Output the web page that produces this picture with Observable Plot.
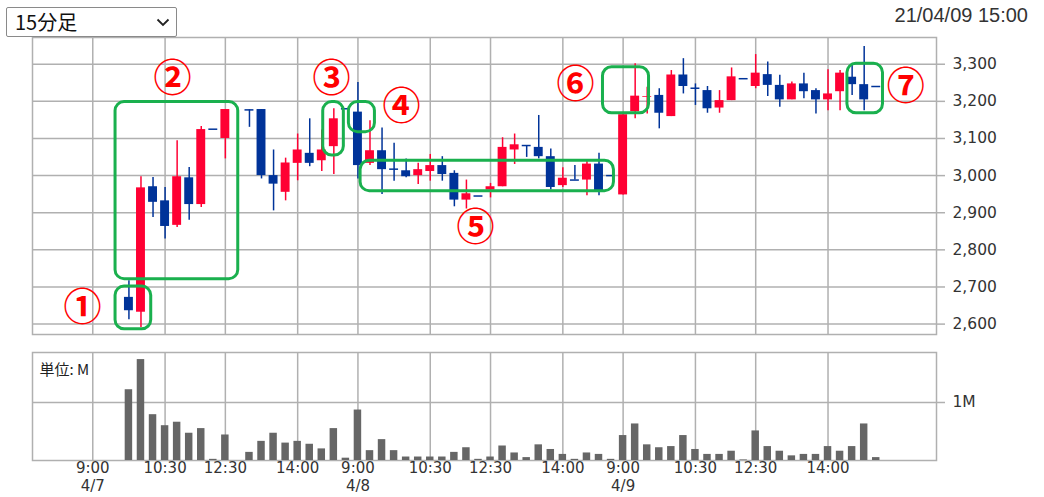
<!DOCTYPE html>
<html>
<head>
<meta charset="utf-8">
<script src="https://cdn.jsdelivr.net/npm/d3@7"></script>
<script src="https://cdn.jsdelivr.net/npm/@observablehq/plot@0.6"></script>
<style>
  body { margin: 0; background: #fff; }
  #wrap { position: relative; width: 1044px; height: 497px; overflow: hidden; background: #fff; }
  #sel { position: absolute; left: 6px; top: 7px; width: 171px; height: 30px; box-sizing: border-box;
         border: 1px solid #8a8a8a; border-radius: 2px; background: #fff; }
  #sel span { position: absolute; left: 8px; top: 1px; font: 20px "Noto Sans CJK JP", sans-serif; color: #111; line-height: 26px; }
  #sel svg { position: absolute; left: 149px; top: 10px; }
  #date { position: absolute; right: 16px; top: 4px; font: 20px "Liberation Sans", Arial, sans-serif; color: #333; }
  #top { position: absolute; left: 0; top: 0; }
  #bot { position: absolute; left: 0; top: 340px; }
</style>
</head>
<body>
<div id="wrap">
  <div id="top"></div>
  <div id="bot"></div>
  <div id="sel"><span>15分足</span><svg width="14" height="9"><polyline points="1.5,1.5 7,7 12.5,1.5" fill="none" stroke="#222" stroke-width="1.8"/></svg></div>
  <div id="date">21/04/09 15:00</div>
</div>
<script>
// ---- session structure ----
const days = ["4/7", "4/8", "4/9"];
const sessionSlots = ["9:00","9:15","9:30","9:45","10:00","10:15","10:30","10:45","11:00","11:15","11:30",
                      "12:30","12:45","13:00","13:15","13:30","13:45","14:00","14:15","14:30","14:45","15:00"];

// ---- 15-minute bars ----
const barTimes = [
  "4/7 9:45","4/7 10:00","4/7 10:15","4/7 10:30","4/7 10:45","4/7 11:00","4/7 11:15","4/7 11:30",
  "4/7 12:30","4/7 13:00","4/7 13:15","4/7 13:30","4/7 13:45","4/7 14:00","4/7 14:15","4/7 14:30","4/7 14:45","4/7 15:00",
  "4/8 9:00","4/8 9:15","4/8 9:30","4/8 9:45","4/8 10:00","4/8 10:15","4/8 10:30","4/8 10:45","4/8 11:00","4/8 11:15","4/8 11:30",
  "4/8 12:30","4/8 12:45","4/8 13:00","4/8 13:15","4/8 13:30","4/8 13:45","4/8 14:00","4/8 14:15","4/8 14:30","4/8 14:45","4/8 15:00",
  "4/9 9:00","4/9 9:15","4/9 9:30","4/9 9:45","4/9 10:00","4/9 10:15","4/9 10:30","4/9 10:45","4/9 11:00","4/9 11:15","4/9 11:30",
  "4/9 12:30","4/9 12:45","4/9 13:00","4/9 13:15","4/9 13:30","4/9 13:45","4/9 14:00","4/9 14:15","4/9 14:30","4/9 14:45","4/9 15:00"
];
const openP = [
  2672,2632,2970,2932,2866,2994,2922,3125, 3100,3177,3178,3000,2955,3033,3060,3040,3078,3180,
  3171,3033,3067,3018,3013,3000,3011,3027,3006,2934,2945, 2961,2970,3069,3081,3076,3051,2973,2988,2988,3031,3000,
  2948,3172,3211,3216,3159,3271,3236,3229,3182,3202,3261, 3240,3272,3243,3204,3247,3229,3204,3226,3265,3245,3240
];
const highP = [
  2717,2997,2995,2968,3094,3022,3132,3125, 3178,3177,3178,3069,3047,3112,3153,3123,3180,3180,
  3251,3148,3128,3087,3045,3033,3057,3051,3013,2988,2945, 2979,3102,3112,3081,3162,3072,3021,3027,3038,3060,3000,
  3164,3301,3238,3234,3283,3315,3247,3240,3229,3290,3261, 3326,3306,3270,3252,3276,3234,3285,3283,3297,3348,3240
];
const lowP = [
  2612,2591,2887,2829,2860,2880,2914,3125, 3045,3130,2991,2905,2932,2986,3024,3011,3003,3180,
  2991,3027,2949,2985,2994,2976,2985,2985,2916,2910,2945, 2940,2970,3030,3049,3045,2961,2968,2988,2946,2946,3000,
  2948,3153,3166,3126,3159,3220,3189,3168,3168,3202,3261, 3234,3213,3184,3204,3207,3166,3175,3175,3216,3175,3240
];
const closeP = [
  2636,2967,2928,2863,2997,2922,3124,3125, 3178,3177,3000,2977,3034,3069,3033,3069,3153,3180,
  3027,3067,3016,3014,2997,3016,3027,3003,2934,2951,2945, 2970,3076,3083,3081,3051,2968,2993,2988,3031,2959,3000,
  3164,3214,3213,3168,3271,3240,3232,3180,3202,3266,3261, 3276,3243,3204,3247,3226,3204,3220,3276,3245,3204,3240
];
// volume, millions of shares
const volumeM = [
  1.22,1.74,0.79,0.60,0.66,0.47,0.55,0.02, 0.44,0.14,0.33,0.47,0.30,0.33,0.28,0.20,0.55,0.04,
  0.87,0.17,0.36,0.17,0.06,0.06,0.06,0.06,0.14,0.22,0.02, 0.06,0.25,0.13,0.05,0.27,0.19,0.105,0.02,0.13,0.105,0.02,
  0.43,0.63,0.27,0.22,0.24,0.43,0.19,0.105,0.105,0.16,0.01, 0.51,0.24,0.16,0.08,0.105,0.105,0.24,0.16,0.24,0.63,0.05
];

// ---- axes ----
const tickTimes = ["4/7 9:00","4/7 10:30","4/7 12:30","4/7 14:00","4/8 9:00","4/8 10:30","4/8 12:30","4/8 14:00",
                   "4/9 9:00","4/9 10:30","4/9 12:30","4/9 14:00"];
const tickTimeLabels = ["9:00","10:30","12:30","14:00","9:00","10:30","12:30","14:00","9:00","10:30","12:30","14:00"];
const tickDateLabels = ["4/7","","","","4/8","","","","4/9","","",""];
const priceTicks = [2600,2700,2800,2900,3000,3100,3200,3300];
const volumeTicks = [1];

// ---- annotations (slot units / price units) ----
const noteLabels = ["①","②","③","④","⑤","⑥","⑦"];
const noteBoxX1 = [1.89, 1.89, 19.12, 21.25, 22.22, 42.33, 62.61];
const noteBoxX2 = [4.85, 12.07, 20.83, 23.41, 43.24, 46.15, 65.56];
const noteBoxY1 = [2586, 2721, 3054, 3117, 2958, 3168, 3168];
const noteBoxY2 = [2701, 3198, 3198, 3198, 3040, 3292, 3301];
const noteTextX = [-0.85, 6.62, 19.81, 25.62, 31.76, 40.06, 67.45];
const noteTextY = [2644, 3262, 3262, 3186, 2860, 3245, 3240];

// ---- build tables ----
const slotIndex = t => { const [d, hm] = t.split(" "); return days.indexOf(d) * sessionSlots.length + sessionSlots.indexOf(hm); };
const RED = "#ff0033", BLUE = "#003399", GRID = "#b0b0b0", GREEN = "#1ab04e";
const bars = barTimes.map((t, k) => ({
  i: slotIndex(t), open: openP[k], high: highP[k], low: lowP[k], close: closeP[k], vol: volumeM[k],
  color: closeP[k] > openP[k] ? RED : BLUE
}));
const ticks = tickTimes.map((t, k) => ({i: slotIndex(t), time: tickTimeLabels[k], date: tickDateLabels[k]}));
const tickIdx = ticks.map(d => d.i);
const notes = noteLabels.map((s, k) => ({s, x1: noteBoxX1[k], x2: noteBoxX2[k], y1: noteBoxY1[k], y2: noteBoxY2[k], tx: noteTextX[k], ty: noteTextY[k]}));
const bodyHalf = 0.37, volHalf = 0.31;
const xDomain = [-5, 70];

const topPlot = Plot.plot({
  width: 1044, height: 340,
  marginLeft: 32, marginRight: 108, marginTop: 37, marginBottom: 6,
  style: {fontFamily: "DejaVu Sans, sans-serif", background: "transparent"},
  x: {domain: xDomain, axis: null},
  y: {domain: [2572, 3372], axis: null},
  color: {type: "identity"},
  marks: [
    Plot.ruleX(tickIdx, {stroke: GRID, strokeWidth: 1.5}),
    Plot.ruleY(priceTicks, {stroke: GRID, strokeWidth: 1.5}),
    Plot.frame({stroke: GRID, strokeWidth: 1.5}),
    Plot.axisY(priceTicks, {anchor: "right", tickSize: 8, tickPadding: 8, stroke: GRID, strokeWidth: 1.5,
      fill: "#333", fontSize: 15.5, tickFormat: d3.format(","), label: null}),
    Plot.ruleX(bars, {x: "i", y1: "low", y2: "high", stroke: "color", strokeWidth: 1.5}),
    Plot.rect(bars.filter(d => d.open !== d.close), {x1: d => d.i - bodyHalf, x2: d => d.i + bodyHalf,
      y1: "open", y2: "close", fill: "color"}),
    Plot.ruleY(bars.filter(d => d.open === d.close), {y: "close", x1: d => d.i - bodyHalf, x2: d => d.i + bodyHalf,
      stroke: "color", strokeWidth: 1.5}),
    Plot.rect(notes, {x1: "x1", x2: "x2", y1: "y1", y2: "y2", fill: "none", stroke: GREEN, strokeWidth: 3, rx: 9}),
    Plot.text(notes, {x: "tx", y: "ty", text: "s", fill: "#ff0000", fontSize: 38, fontWeight: "bold", fontFamily: "Noto Sans CJK JP"})
  ]
});

const botPlot = Plot.plot({
  width: 1044, height: 157,
  marginLeft: 32, marginRight: 108, marginTop: 12, marginBottom: 37,
  style: {fontFamily: "DejaVu Sans, sans-serif", background: "transparent"},
  x: {domain: xDomain, axis: null},
  y: {domain: [0, 1.862], axis: null},
  marks: [
    Plot.ruleX(tickIdx, {stroke: GRID, strokeWidth: 1.5}),
    Plot.ruleY(volumeTicks, {stroke: GRID, strokeWidth: 1.5}),
    Plot.frame({stroke: GRID, strokeWidth: 1.5}),
    Plot.axisY(volumeTicks, {anchor: "right", tickSize: 8, tickPadding: 8, stroke: GRID, strokeWidth: 1.5,
      fill: "#333", fontSize: 15.5, tickFormat: d => d + "M", label: null}),
    Plot.rect(bars, {x1: d => d.i - volHalf, x2: d => d.i + volHalf, y1: 0, y2: "vol", fill: "#666"}),
    Plot.text(["単位: M"], {frameAnchor: "top-left", dx: 7, dy: 12, textAnchor: "start", fontSize: 15,
      fill: "#222", fontFamily: "Noto Sans CJK JP"}),
    Plot.text(ticks, {x: "i", text: "time", frameAnchor: "bottom", dy: 12.5, fontSize: 15, fill: "#333"}),
    Plot.text(ticks, {x: "i", text: "date", frameAnchor: "bottom", dy: 30.5, fontSize: 15, fill: "#333"})
  ]
});

document.getElementById("top").appendChild(topPlot);
document.getElementById("bot").appendChild(botPlot);
</script>
</body>
</html>
